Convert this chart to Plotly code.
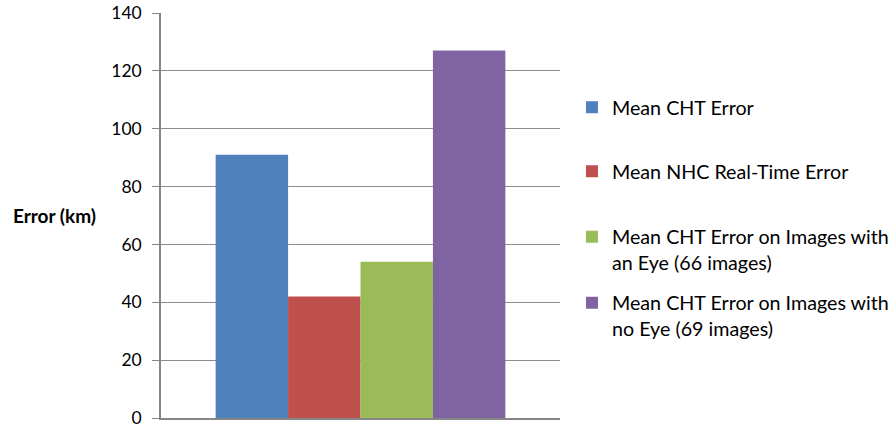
import plotly.graph_objects as go

series_names = [
    "Mean CHT Error",
    "Mean NHC Real-Time Error",
    "Mean CHT Error on Images with<br>an Eye (66 images)",
    "Mean CHT Error on Images with<br>no Eye (69 images)",
]
series_values = [91, 42, 54, 127]
series_colors = ["#4F81BD", "#C0504D", "#9BBB59", "#8064A2"]
category = [""]
y_ticks = [0, 20, 40, 60, 80, 100, 120, 140]

FONT = "Lato"
legend_ids = ["legend", "legend2", "legend3", "legend4"]
legend_y = [0.767, 0.609, 0.415, 0.252]

fig = go.Figure()
for name, val, col, lid in zip(series_names, series_values, series_colors, legend_ids):
    fig.add_trace(go.Bar(x=category, y=[val], name=name, marker=dict(color=col, line=dict(width=0)),
                         legend=lid, showlegend=True))

layout_legends = {}
for lid, ly in zip(legend_ids, legend_y):
    layout_legends[lid] = dict(x=1.03, y=ly, xanchor="left", yanchor="middle",
                               font=dict(family=FONT, size=19.7, color="#000"),
                               bgcolor="rgba(0,0,0,0)", valign="top", itemwidth=30)

fig.update_layout(
    width=893, height=427,
    margin=dict(l=161, r=333, t=13, b=9, autoexpand=False),
    paper_bgcolor="white", plot_bgcolor="white",
    showlegend=True,
    barmode="group", bargap=0.274, bargroupgap=0,
    font=dict(family=FONT, size=18, color="#000"),
    xaxis=dict(showticklabels=False, showline=True, linecolor="#868686", linewidth=1.5,
               showgrid=False, zeroline=False, ticks="", automargin=False),
    yaxis=dict(range=[0, 140], tickvals=y_ticks, showline=True, linecolor="#868686", linewidth=1.5,
               showgrid=True, gridcolor="#8c8c8c", gridwidth=1.3, zeroline=False,
               ticks="outside", ticklen=7, tickcolor="#868686", tickwidth=1.3,
               tickfont=dict(family=FONT, size=17.5, color="#000"), ticklabelstandoff=7,
               ticklabeloverflow="allow", automargin=False),
    annotations=[dict(text="<b>Error (km)</b>", xref="paper", yref="paper", x=-0.268, y=0.5,
                      xanchor="center", yanchor="middle", showarrow=False,
                      font=dict(family=FONT, size=19, color="#000"))],
    **layout_legends,
)

fig.write_html("out.html")
